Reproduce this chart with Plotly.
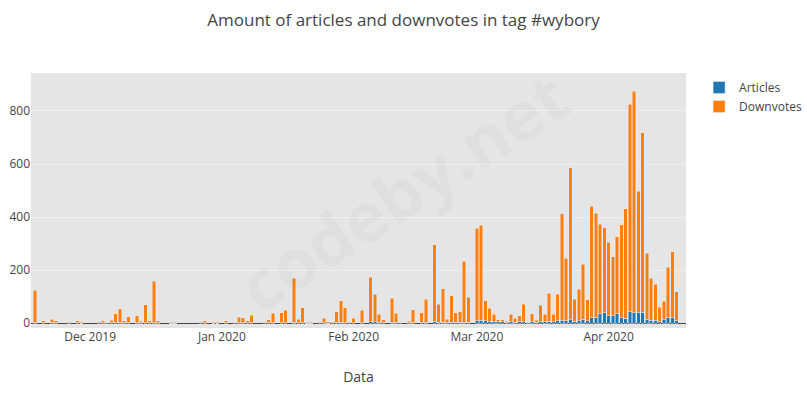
import plotly.graph_objects as go

# Days (of month) that have a bar, per month
nov_days = [18, 20, 22, 23, 26, 28, 29]
dec_days = [3, 4, 5, 6, 7, 8, 9, 10, 12, 13, 14, 15, 16, 17, 20, 21, 27, 28, 30, 31]
jan_days = [2, 4, 5, 6, 7, 8, 11, 12, 13, 15, 16, 18, 19, 20, 21, 22, 24, 25, 26, 27, 28, 29, 30, 31]
feb_days = [1, 3, 5, 6, 7, 8, 10, 11, 12, 14, 15, 17, 18, 20, 21, 22, 23, 24, 25, 26, 27, 28]
mar_days = list(range(1, 32))
apr_days = list(range(1, 18))

dates = ([f"2019-11-{d:02d}" for d in nov_days] + [f"2019-12-{d:02d}" for d in dec_days]
         + [f"2020-01-{d:02d}" for d in jan_days] + [f"2020-02-{d:02d}" for d in feb_days]
         + [f"2020-03-{d:02d}" for d in mar_days] + [f"2020-04-{d:02d}" for d in apr_days])

articles_nov = [2, 1, 2, 1, 1, 1, 0]
articles_dec = [1, 1, 1, 1, 2, 2, 1, 1, 2, 1, 2, 1, 2, 1, 0, 0, 1, 1, 0, 0]
articles_jan = [1, 1, 2, 1, 1, 2, 1, 1, 2, 2, 2, 4, 1, 2, 0, 0, 1, 1, 0, 1, 3, 3, 2, 1]
articles_feb = [1, 2, 5, 6, 3, 1, 3, 3, 1, 2, 2, 3, 3, 7, 3, 3, 2, 3, 3, 3, 4, 4]
articles_mar = [10, 11, 10, 8, 7, 5, 5, 4, 6, 4, 5, 6, 2, 5, 4, 6, 5, 8, 6, 9, 11, 10,
                13, 7, 10, 15, 10, 21, 21, 35, 39]
articles_apr = [29, 29, 36, 20, 19, 43, 40, 40, 41, 15, 11, 11, 6, 14, 20, 21, 10]

downvotes_nov = [123, 8, 13, 8, 5, 8, 3]
downvotes_dec = [4, 8, 3, 11, 33, 53, 8, 23, 26, 7, 67, 8, 157, 8, 4, 4, 4, 8, 4, 4]
downvotes_jan = [8, 3, 21, 19, 8, 29, 4, 12, 36, 38, 47, 165, 14, 57, 4, 4, 4, 17, 5, 4, 41, 82, 57, 4]
downvotes_feb = [18, 46, 168, 103, 30, 13, 92, 35, 3, 6, 48, 37, 87, 288, 69, 126, 13, 100, 36, 41, 230, 94]
downvotes_mar = [348, 359, 75, 48, 26, 8, 8, 4, 27, 14, 23, 66, 1, 30, 7, 61, 28, 105, 27, 101, 401,
                 235, 573, 83, 118, 207, 78, 420, 393, 338, 321]
downvotes_apr = [276, 222, 290, 352, 412, 783, 834, 458, 676, 249, 158, 136, 54, 68, 191, 249, 108]

articles = articles_nov + articles_dec + articles_jan + articles_feb + articles_mar + articles_apr
downvotes = downvotes_nov + downvotes_dec + downvotes_jan + downvotes_feb + downvotes_mar + downvotes_apr

y_ticks = [0, 200, 400, 600, 800]

fig = go.Figure()
fig.add_trace(go.Bar(x=dates, y=articles, name="Articles", marker_color="#1f77b4"))
fig.add_trace(go.Bar(x=dates, y=downvotes, name="Downvotes", marker_color="#ff7f0e"))

fig.update_layout(
    barmode="stack",
    bargap=0.15,
    width=807,
    height=396,
    margin=dict(l=31, r=121, t=73, b=68, autoexpand=False),
    paper_bgcolor="white",
    plot_bgcolor="#e5e5e5",
    font=dict(family="Open Sans, sans-serif", size=12, color="#444"),
    title=dict(text="Amount of articles and downvotes in tag #wybory",
               x=0.5, xanchor="center", y=0.95, yanchor="middle",
               font=dict(size=17, color="#444")),
    legend=dict(x=1.02, y=1, traceorder="normal", font=dict(size=12, color="#444")),
    xaxis=dict(
        title=dict(text="Data", font=dict(size=14), standoff=28),
        range=["2019-11-17 02:00", "2020-04-19 05:00"],
        showgrid=False,
        tickformat="%b %Y",
        dtick="M1",
        ticks="",
        automargin=False,
    ),
    yaxis=dict(
        range=[-18, 943],
        tickvals=y_ticks,
        gridcolor="#efefef",
        gridwidth=1,
        zeroline=True,
        zerolinecolor="#444",
        zerolinewidth=1,
        ticks="",
        automargin=False,
    ),
    annotations=[
        dict(text="<b>codeby.net</b>", xref="paper", yref="paper",
             x=0.568, y=0.54, xanchor="center", yanchor="middle",
             textangle=-33, showarrow=False,
             font=dict(family="Open Sans, sans-serif", size=68, color="rgba(0,0,0,0.025)")),
    ],
)

fig.write_html("out.html")
